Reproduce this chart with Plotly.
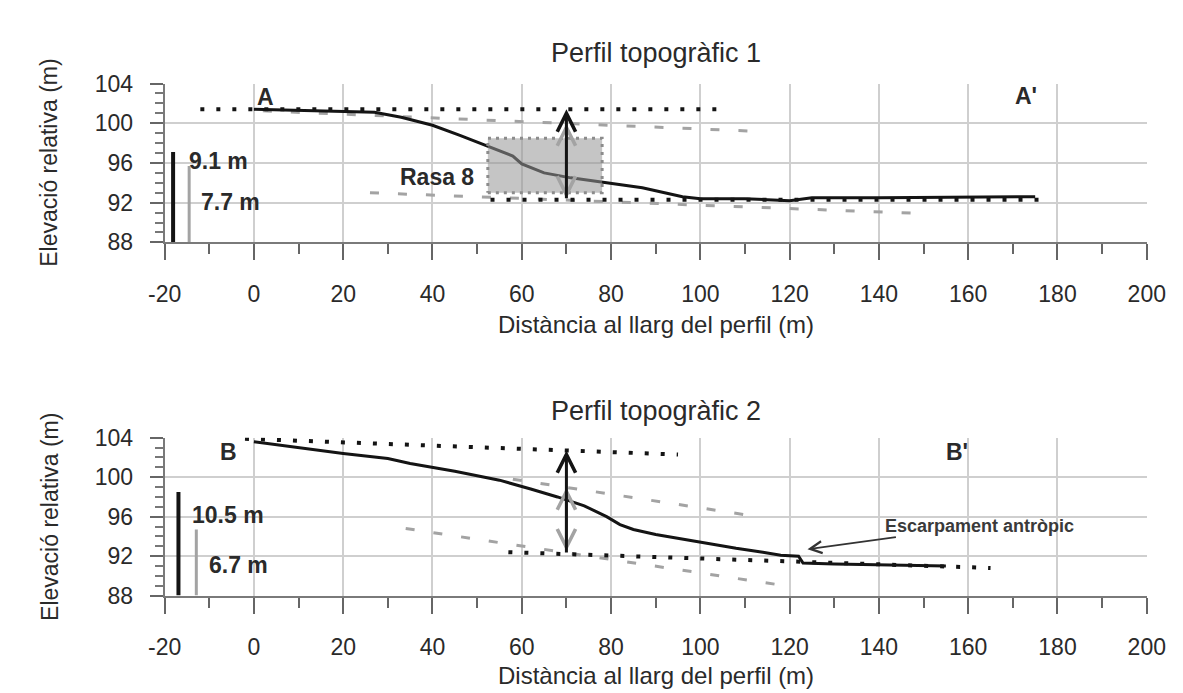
import numpy as np
import plotly.graph_objects as go

# ---------------- data ----------------
# Profile 1
prof1_x = [0, 10, 20, 27, 33, 40, 46, 50, 53, 56, 58, 60, 65, 71, 79, 87, 92, 96, 100, 110, 120, 125, 140, 160, 175]
prof1_y = [101.4, 101.3, 101.2, 101.1, 100.6, 99.8, 98.8, 98.1, 97.6, 97.1, 96.7, 95.9, 95.0, 94.5, 94.0, 93.5, 93.0, 92.6, 92.4, 92.4, 92.2, 92.5, 92.5, 92.6, 92.6]
upper1_x = [-12, 104]
upper1_y = [101.4, 101.4]
lower1_x = [53, 176]
lower1_y = [92.3, 92.3]
gupper1_x = [2, 112]
gupper1_y = [101.25, 99.2]
glower1_x = [26, 150]
glower1_y = [93.0, 90.9]
rasa_x = [52.4, 78]
rasa_y = [93.0, 98.5]
drops1 = [9.1, 7.7]

# Profile 2
prof2_x = [0, 10, 20, 30, 35, 45, 55, 62, 68, 74, 79, 82, 85, 90, 95, 100, 108, 114, 118, 122, 123, 130, 140, 155]
prof2_y = [103.6, 103.0, 102.4, 101.9, 101.4, 100.6, 99.7, 98.8, 98.0, 97.1, 96.0, 95.2, 94.7, 94.2, 93.8, 93.4, 92.8, 92.4, 92.1, 92.0, 91.3, 91.2, 91.1, 91.0]
upper2_x = [-2, 95]
upper2_y = [103.9, 102.3]
lower2_x = [57, 165]
lower2_y = [92.4, 90.8]
gupper2_x = [58, 110]
gupper2_y = [99.8, 96.2]
glower2_x = [34, 119]
glower2_y = [94.8, 89.0]
drops2 = [10.5, 6.7]

arrow_x = 70
x_ticks = list(range(-20, 201, 20))
x_ticktext = [str(v) for v in x_ticks]
y_ticks = [88, 92, 96, 100, 104]

FONT = "Liberation Sans, Arial, sans-serif"
BLACK = "#141414"
GRAY = "#a3a3a3"
TXT = "#2a2a2a"

fig = go.Figure()

def add_panel(xa, ya, px, py, ux, uy, lx, ly, gux, guy, glx, gly, drops, bar_pos):
    # gray dashed lines
    fig.add_trace(go.Scatter(x=gux, y=guy, mode="lines", xaxis=xa, yaxis=ya,
                             line=dict(color=GRAY, width=3, dash="9px,19px"), hoverinfo="skip"))
    fig.add_trace(go.Scatter(x=glx, y=gly, mode="lines", xaxis=xa, yaxis=ya,
                             line=dict(color=GRAY, width=3, dash="9px,19px"), hoverinfo="skip"))
    # black dotted lines
    fig.add_trace(go.Scatter(x=ux, y=uy, mode="lines", xaxis=xa, yaxis=ya,
                             line=dict(color=BLACK, width=4, dash="4px,12px"), hoverinfo="skip"))
    fig.add_trace(go.Scatter(x=lx, y=ly, mode="lines", xaxis=xa, yaxis=ya,
                             line=dict(color=BLACK, width=4, dash="4px,12px"), hoverinfo="skip"))
    # profile
    fig.add_trace(go.Scatter(x=px, y=py, mode="lines", xaxis=xa, yaxis=ya,
                             line=dict(color=BLACK, width=3), hoverinfo="skip"))
    # scale bars
    for d, bx, col, w in zip(drops, bar_pos, [BLACK, GRAY], [4, 3]):
        fig.add_trace(go.Scatter(x=[bx, bx], y=[88, 88 + d], mode="lines", xaxis=xa, yaxis=ya,
                                 line=dict(color=col, width=w), hoverinfo="skip"))

add_panel("x", "y", prof1_x, prof1_y, upper1_x, upper1_y, lower1_x, lower1_y,
          gupper1_x, gupper1_y, glower1_x, glower1_y, drops1, [-18.1, -14.5])
# Rasa 8 box (overlay)
fig.add_trace(go.Scatter(x=[rasa_x[0], rasa_x[1], rasa_x[1], rasa_x[0], rasa_x[0]],
                         y=[rasa_y[0], rasa_y[0], rasa_y[1], rasa_y[1], rasa_y[0]],
                         mode="lines", fill="toself", fillcolor="rgba(150,150,150,0.55)",
                         line=dict(color="#8c8c8c", width=3, dash="3px,5px"),
                         xaxis="x", yaxis="y", hoverinfo="skip"))
add_panel("x2", "y2", prof2_x, prof2_y, upper2_x, upper2_y, lower2_x, lower2_y,
          gupper2_x, gupper2_y, glower2_x, glower2_y, drops2, [-16.9, -12.9])

ann = []

def arrows(xr, yr, ux, uy, lx, ly, gux, guy, glx, gly):
    g_lo = float(np.interp(arrow_x, glx, gly))
    g_hi = float(np.interp(arrow_x, gux, guy))
    b_lo = float(np.interp(arrow_x, lx, ly))
    b_hi = float(np.interp(arrow_x, ux, uy))
    ann.append(dict(x=arrow_x, y=g_hi, ax=arrow_x, ay=g_lo, xref=xr, yref=yr, axref=xr, ayref=yr,
                    text="", showarrow=True, arrowhead=5, startarrowhead=5, arrowside="end+start",
                    arrowsize=1.2, startarrowsize=1.2, arrowwidth=3, arrowcolor=GRAY))
    ann.append(dict(x=arrow_x, y=b_hi, ax=arrow_x, ay=b_lo, xref=xr, yref=yr, axref=xr, ayref=yr,
                    text="", showarrow=True, arrowhead=5, arrowsize=1.2, arrowwidth=3, arrowcolor=BLACK))

arrows("x", "y", upper1_x, upper1_y, lower1_x, lower1_y, gupper1_x, gupper1_y, glower1_x, glower1_y)
arrows("x2", "y2", upper2_x, upper2_y, lower2_x, lower2_y, gupper2_x, gupper2_y, glower2_x, glower2_y)

def lab(text, x, y, xr, yr, xanchor="center", size=23):
    ann.append(dict(text=text, x=x, y=y, xref=xr, yref=yr, showarrow=False, xanchor=xanchor,
                    yanchor="middle", font=dict(family=FONT, size=size, color=TXT, weight="bold")))

lab("A", 2.6, 102.6, "x", "y")
lab("A'", 173, 102.7, "x", "y")
lab("9.1 m", -15, 96.2, "x", "y", "left")
lab("7.7 m", -12.2, 92.1, "x", "y", "left")
lab("Rasa 8", 41, 94.6, "x", "y")
lab("B", -5.6, 102.6, "x2", "y2")
lab("B'", 157.6, 102.6, "x2", "y2")
lab("10.5 m", -14.3, 96.2, "x2", "y2", "left")
lab("6.7 m", -10.4, 91.1, "x2", "y2", "left")

ann.append(dict(text="Escarpament antròpic", x=124, y=92.7, ax=162.5, ay=95.1,
                xref="x2", yref="y2", axref="x2", ayref="y2", showarrow=True,
                arrowhead=5, arrowsize=1.3, arrowwidth=1.8, arrowcolor="#333",
                font=dict(family=FONT, size=18, color="#3a3a3a", weight="bold")))

# titles
for t, yy in [("Perfil topogràfic 1", 1 - 33 / 693), ("Perfil topogràfic 2", 1 - 405 / 693)]:
    ann.append(dict(text=t, x=0.5497, y=yy, xref="paper", yref="paper", showarrow=False,
                    xanchor="center", yanchor="middle", font=dict(family=FONT, size=27, color=TXT)))
for yy in [1 - 315 / 693, 1 - 680 / 693]:
    ann.append(dict(text="Distància al llarg del perfil (m)", x=0.5497, y=yy, xref="paper", yref="paper",
                    showarrow=False, xanchor="center", yanchor="middle",
                    font=dict(family=FONT, size=24, color=TXT)))
for yy in [1 - 147 / 693, 1 - 515 / 693]:
    ann.append(dict(text="Elevació relativa (m)", x=25 / 1183, y=yy, xref="paper", yref="paper",
                    showarrow=False, xanchor="center", yanchor="middle", textangle=-90,
                    font=dict(family=FONT, size=23, color=TXT)))

xdom = [144 / 1183, 1157 / 1183]
xax = dict(range=[-20, 200], tickvals=x_ticks, ticktext=x_ticktext, showgrid=True, gridcolor="#cfcfcf", gridwidth=1.5,
           zeroline=False, showline=True, linecolor="#7a7a7a", linewidth=2,
           ticks="outside", ticklen=16, tickwidth=1.5, tickcolor="#666",
           minor=dict(dtick=10, ticks="outside", ticklen=10, tickwidth=1.5, tickcolor="#666", showgrid=False),
           tickfont=dict(family=FONT, size=23, color=TXT), ticklabelstandoff=14, domain=xdom)
yax = dict(range=[88, 104], tickvals=y_ticks, showgrid=True, gridcolor="#cfcfcf", gridwidth=1.5,
           zeroline=False, showline=True, linecolor="#7a7a7a", linewidth=2,
           ticks="outside", ticklen=13, tickwidth=1.5, tickcolor="#666",
           minor=dict(dtick=1, ticks="outside", ticklen=8, tickwidth=1.5, tickcolor="#777", showgrid=False),
           tickfont=dict(family=FONT, size=23, color=TXT), ticklabelstandoff=12)

fig.update_layout(
    width=1183, height=693, margin=dict(l=0, r=0, t=0, b=0),
    paper_bgcolor="white", plot_bgcolor="white", showlegend=False,
    xaxis=dict(xax, anchor="y"),
    yaxis=dict(yax, domain=[1 - 230 / 693, 1 - 65 / 693], anchor="x"),
    xaxis2=dict(xax, anchor="y2"),
    yaxis2=dict(yax, domain=[1 - 597 / 693, 1 - 433 / 693], anchor="x2"),
    annotations=ann,
)

fig.write_html("out.html")
